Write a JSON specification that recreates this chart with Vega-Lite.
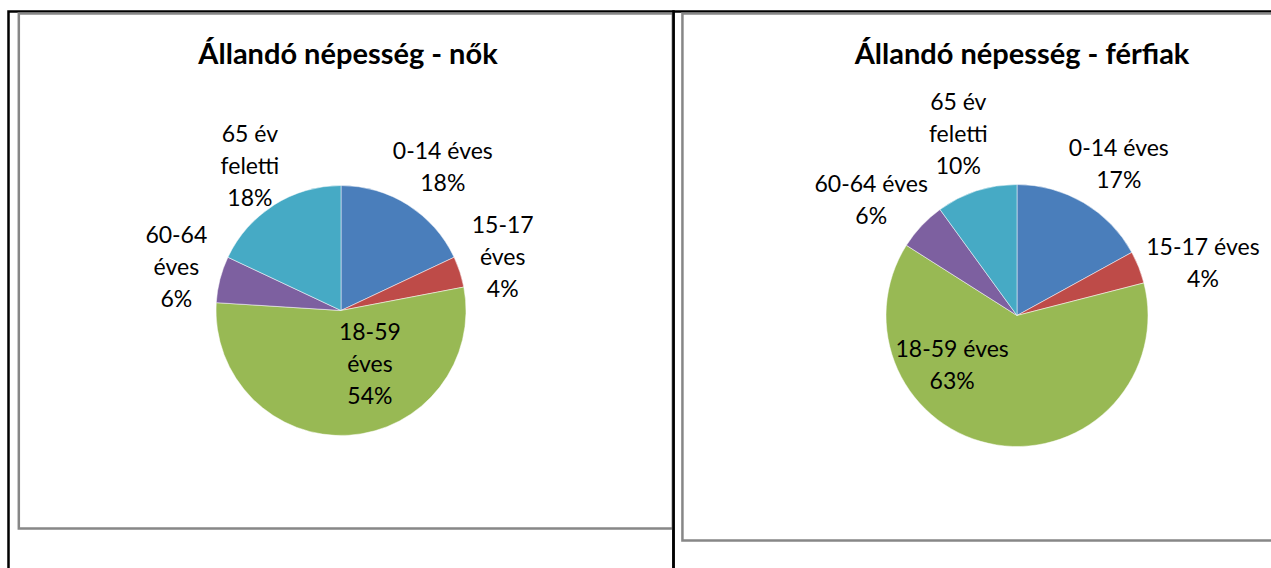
{
  "$schema": "https://vega.github.io/schema/vega-lite/v6.json",
  "background": "white",
  "padding": {"left": 6.5, "top": 9.5, "right": 0, "bottom": 0},
  "autosize": {"type": "pad"},
  "spacing": 0,
  "bounds": "flush",
  "config": {
    "view": {"stroke": "#000000", "strokeWidth": 2.5},
    "font": "Lato",
    "text": {"font": "Lato", "fontSize": 23, "lineHeight": 32, "color": "#000000"}
  },
  "hconcat": [
    {
      "width": 665,
      "height": 598,
      "title": {"text": "Állandó népesség - nők", "font": "Lato", "fontSize": 29, "fontWeight": "bold", "color": "#000000", "anchor": "middle", "offset": -58, "dx": 7},
      "layer": [
        {
          "data": {"values": [{}]},
          "mark": {"type": "rect", "filled": false, "stroke": "#878787", "strokeWidth": 2.5},
          "encoding": {
            "x": {"datum": 0.0155, "type": "quantitative", "scale": {"domain": [0, 1], "nice": false, "zero": false}, "axis": null},
            "x2": {"datum": 0.999},
            "y": {"datum": 0.0033, "type": "quantitative", "scale": {"domain": [0, 1], "reverse": true, "nice": false, "zero": false}, "axis": null},
            "y2": {"datum": 0.8645}
          }
        },
        {
          "data": {"name": "nok", "values": [
            {"group": "0-14 éves", "value": 18, "label": "0-14 éves\n18%"},
            {"group": "15-17 éves", "value": 4, "label": "15-17\néves\n4%"},
            {"group": "18-59 éves", "value": 54, "label": "18-59\néves\n54%"},
            {"group": "60-64 éves", "value": 6, "label": "60-64\néves\n6%"},
            {"group": "65 év feletti", "value": 18, "label": "65 év\nfeletti\n18%"}
          ]},
          "layer": [
            {
              "mark": {"type": "arc", "outerRadius": 125, "stroke": "#ffffff", "strokeWidth": 0.5},
              "encoding": {
                "theta": {"field": "value", "type": "quantitative", "stack": true},
                "color": {"field": "group", "type": "nominal", "scale": {"domain": ["0-14 éves", "15-17 éves", "18-59 éves", "60-64 éves", "65 év feletti"], "range": ["#4A7EBB", "#BE4B48", "#98B954", "#7D60A0", "#46AAC5"]}, "legend": null}
              }
            },
            {
              "mark": {"type": "text", "radius": 190, "dy": 2, "lineBreak": "\n"},
              "encoding": {
                "theta": {"field": "value", "type": "quantitative", "stack": true},
                "detail": {"field": "group", "type": "nominal"},
                "text": {"condition": {"test": "datum.group !== '18-59 éves' && length(split(datum.label, '\\n')) == 2", "field": "label"}, "value": ""}
              }
            },
            {
              "mark": {"type": "text", "radius": 170, "dy": -32, "lineBreak": "\n"},
              "encoding": {
                "theta": {"field": "value", "type": "quantitative", "stack": true},
                "detail": {"field": "group", "type": "nominal"},
                "text": {"condition": {"test": "datum.group !== '18-59 éves' && length(split(datum.label, '\\n')) == 3", "field": "label"}, "value": ""}
              }
            },
            {
              "mark": {"type": "text", "radius": 62, "dx": 25, "dy": -39, "lineBreak": "\n"},
              "encoding": {
                "theta": {"field": "value", "type": "quantitative", "stack": true},
                "detail": {"field": "group", "type": "nominal"},
                "text": {"condition": {"test": "datum.group === '18-59 éves'", "field": "label"}, "value": ""}
              }
            }
          ]
        }
      ]
    },
    {
      "width": 687,
      "height": 608,
      "title": {"text": "Állandó népesség - férfiak", "font": "Lato", "fontSize": 29, "fontWeight": "bold", "color": "#000000", "anchor": "middle", "offset": -58, "dx": 5},
      "layer": [
        {
          "data": {"values": [{}]},
          "mark": {"type": "rect", "filled": false, "stroke": "#878787", "strokeWidth": 2.5},
          "encoding": {
            "x": {"datum": 0.013, "type": "quantitative", "scale": {"domain": [0, 1], "nice": false, "zero": false}, "axis": null},
            "x2": {"datum": 1},
            "y": {"datum": 0.0033, "type": "quantitative", "scale": {"domain": [0, 1], "reverse": true, "nice": false, "zero": false}, "axis": null},
            "y2": {"datum": 0.87}
          }
        },
        {
          "data": {"name": "ferfiak", "values": [
            {"group": "0-14 éves", "value": 17, "label": "0-14 éves\n17%"},
            {"group": "15-17 éves", "value": 4, "label": "15-17 éves\n4%"},
            {"group": "18-59 éves", "value": 63, "label": "18-59 éves\n63%"},
            {"group": "60-64 éves", "value": 6, "label": "60-64 éves\n6%"},
            {"group": "65 év feletti", "value": 10, "label": "65 év\nfeletti\n10%"}
          ]},
          "layer": [
            {
              "mark": {"type": "arc", "outerRadius": 131, "stroke": "#ffffff", "strokeWidth": 0.5},
              "encoding": {
                "theta": {"field": "value", "type": "quantitative", "stack": true},
                "color": {"field": "group", "type": "nominal", "scale": {"domain": ["0-14 éves", "15-17 éves", "18-59 éves", "60-64 éves", "65 év feletti"], "range": ["#4A7EBB", "#BE4B48", "#98B954", "#7D60A0", "#46AAC5"]}, "legend": null}
              }
            },
            {
              "mark": {"type": "text", "radius": 200, "dy": 6, "lineBreak": "\n"},
              "encoding": {
                "theta": {"field": "value", "type": "quantitative", "stack": true},
                "detail": {"field": "group", "type": "nominal"},
                "text": {"condition": {"test": "datum.group !== '18-59 éves' && length(split(datum.label, '\\n')) == 2", "field": "label"}, "value": ""}
              }
            },
            {
              "mark": {"type": "text", "radius": 190, "dy": -32, "lineBreak": "\n"},
              "encoding": {
                "theta": {"field": "value", "type": "quantitative", "stack": true},
                "detail": {"field": "group", "type": "nominal"},
                "text": {"condition": {"test": "datum.group !== '18-59 éves' && length(split(datum.label, '\\n')) == 3", "field": "label"}, "value": ""}
              }
            },
            {
              "mark": {"type": "text", "radius": 82, "dx": -52, "dy": -46, "lineBreak": "\n"},
              "encoding": {
                "theta": {"field": "value", "type": "quantitative", "stack": true},
                "detail": {"field": "group", "type": "nominal"},
                "text": {"condition": {"test": "datum.group === '18-59 éves'", "field": "label"}, "value": ""}
              }
            }
          ]
        }
      ]
    }
  ]
}
